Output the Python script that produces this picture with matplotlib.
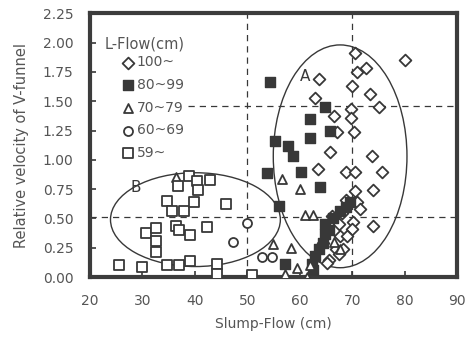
import matplotlib.pyplot as plt
from matplotlib.patches import Ellipse

plt.rcParams['font.family'] = ['DejaVu Sans']

# L-Flow groups: slump-flow (cm) vs relative velocity of V-funnel
x_100 = [70.6, 80.0, 72.7, 71.0, 63.6, 69.9, 73.4, 63.0, 75.2, 69.8, 66.6, 69.8, 67.1,
         70.4, 65.8, 73.8, 63.4, 68.9, 70.6, 75.7, 70.6, 73.9, 68.9, 70.9, 71.5, 73.9,
         70.2, 69.9, 67.4, 67.7, 69.1, 67.0, 68.3, 67.4, 65.5, 64.4, 65.2, 66.2, 68.0]
y_100 = [1.91, 1.85, 1.78, 1.75, 1.69, 1.63, 1.56, 1.53, 1.45, 1.43, 1.37, 1.36, 1.24,
         1.24, 1.07, 1.03, 0.92, 0.90, 0.90, 0.90, 0.73, 0.74, 0.66, 0.64, 0.58, 0.44,
         0.47, 0.41, 0.45, 0.35, 0.35, 0.24, 0.24, 0.20, 0.15, 0.29, 0.12, 0.52, 0.55]

x_80 = [54.4, 64.9, 61.9, 65.7, 62.0, 55.2, 57.8, 58.7, 60.2, 53.8, 63.8, 56.1, 69.6,
        67.7, 64.8, 64.8, 64.5, 63.6, 63.0, 62.3, 57.2, 62.6, 66.3, 65.5, 68.8]
y_80 = [1.66, 1.45, 1.35, 1.25, 1.19, 1.16, 1.12, 1.03, 0.90, 0.89, 0.77, 0.61, 0.64,
        0.56, 0.45, 0.37, 0.29, 0.24, 0.18, 0.11, 0.11, 0.06, 0.50, 0.40, 0.60]

x_70 = [36.3, 56.6, 60.1, 61.0, 62.6, 54.9, 58.4, 57.2, 59.5, 61.4, 62.0, 67.7, 66.5]
y_70 = [0.85, 0.84, 0.75, 0.53, 0.53, 0.28, 0.25, 0.03, 0.08, 0.00, 0.10, 0.24, 0.30]

x_60 = [49.9, 52.8, 54.7, 47.3]
y_60 = [0.46, 0.17, 0.17, 0.30]

x_59 = [25.5, 29.9, 34.7, 36.9, 39.0, 44.2, 44.2, 50.9, 30.6, 32.5, 32.5, 32.5, 34.7,
        35.7, 36.3, 36.7, 38.8, 38.0, 39.1, 40.4, 40.5, 39.8, 42.8, 42.4, 46.0, 37.0]
y_59 = [0.10, 0.09, 0.10, 0.10, 0.14, 0.11, 0.03, 0.02, 0.38, 0.42, 0.31, 0.21, 0.65,
        0.56, 0.44, 0.78, 0.86, 0.56, 0.36, 0.82, 0.74, 0.64, 0.83, 0.43, 0.62, 0.40]

ink = '#383838'
grey = '#555555'

fig = plt.figure(figsize=(4.69, 3.40), dpi=100)
ax = fig.add_axes([0.192, 0.185, 0.7825, 0.776])

# guide lines
ax.axvline(50, color=ink, lw=0.9, ls=(0, (5, 4)), zorder=1)
ax.axvline(70, color=ink, lw=0.9, ls=(0, (5, 4)), zorder=1)
ax.axhline(0.51, color=ink, lw=0.9, ls=(0, (5, 4)), zorder=1)
ax.plot([38.6, 90], [1.46, 1.46], color=ink, lw=0.9, ls=(0, (5, 4)), zorder=1)

# group outlines
ax.add_patch(Ellipse((40.1, 0.49), 32.4, 0.80, fill=False, ec=ink, lw=1.0, zorder=2))
ax.add_patch(Ellipse((67.7, 1.03), 25.5, 1.90, fill=False, ec=ink, lw=1.0, zorder=2))
ax.text(61.0, 1.71, 'A', fontsize=11, color=ink, ha='center', va='center')
ax.text(28.7, 0.76, 'B', fontsize=11, color=ink, ha='center', va='center')

kw = dict(facecolor='white', edgecolor=ink, linewidths=1.3, zorder=3)
h1 = ax.scatter(x_100, y_100, marker='D', s=36, label='100~', **kw)
h2 = ax.scatter(x_80, y_80, marker='s', s=48, color=ink, label='80~99', zorder=3)
h3 = ax.scatter(x_70, y_70, marker='^', s=42, label='70~79', **kw)
h4 = ax.scatter(x_60, y_60, marker='o', s=42, label='60~69', **kw)
h5 = ax.scatter(x_59, y_59, marker='s', s=48, label='59~', **kw)

ax.text(0.04, 0.885, 'L-Flow(cm)', transform=ax.transAxes, fontsize=10.5,
        color=grey, ha='left', va='center')
leg = ax.legend(handles=[h1, h2, h3, h4, h5], loc='upper left',
                bbox_to_anchor=(0.088, 0.84), frameon=False, fontsize=10,
                handlelength=0.8, handletextpad=0.25, labelspacing=0.62,
                borderaxespad=0, borderpad=0)
for t in leg.get_texts():
    t.set_color(grey)

ax.set_xlim(20, 90)
ax.set_ylim(0, 2.25)
ax.set_xticks(range(20, 91, 10))
ax.set_yticks([0, 0.25, 0.5, 0.75, 1.0, 1.25, 1.5, 1.75, 2.0, 2.25])
ax.set_yticklabels(['%.2f' % v for v in ax.get_yticks()])
ax.tick_params(direction='in', length=4, width=1.2, color=ink, labelcolor=grey,
               labelsize=10)
ax.tick_params(axis='x', pad=12)
ax.tick_params(axis='y', pad=12)
for s in ax.spines.values():
    s.set_linewidth(3)
    s.set_color('#3c3c3c')

ax.set_xlabel('Slump-Flow (cm)', fontsize=10, color=grey, labelpad=7)
ax.set_ylabel('Relative velocity of V-funnel', fontsize=10.5, color=grey, labelpad=10)

fig.savefig('out.png', dpi=100)
